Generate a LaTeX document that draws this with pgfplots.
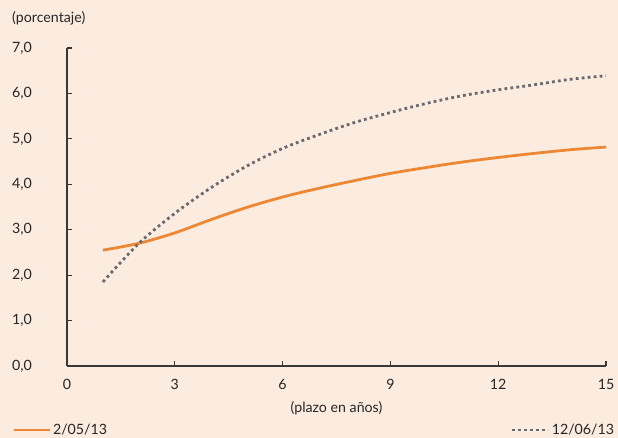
\documentclass[border=0pt]{standalone}
\usepackage{fontspec}
\setmainfont{Lato}
\usepackage{pgfplots}
\pgfplotsset{compat=1.18}
\definecolor{bgc}{RGB}{252,236,224}
\definecolor{orc}{RGB}{237,135,51}
\definecolor{grc}{RGB}{105,106,110}
\definecolor{axc}{RGB}{55,55,55}
\begin{document}
\begin{tikzpicture}
\fill[bgc] (-67pt,-72pt) rectangle (551pt,366pt);
\begin{axis}[
  at={(0,0)}, anchor=south west,
  width=539pt, height=318pt, scale only axis,
  xmin=0, xmax=15, ymin=0, ymax=7,
  axis lines=left,
  axis line style={-, axc, line width=1.1pt},
  tick style={axc, line width=1.1pt},
  tick align=inside,
  major tick length=5pt,
  xtick={0,3,6,9,12,15},
  ytick={0,1,2,3,4,5,6,7},
  font=\fontsize{14.2}{16}\selectfont,
  /pgf/number format/assume math mode=true,
  yticklabel style={/pgf/number format/.cd, fixed, fixed zerofill, precision=1, use comma, /tikz/.cd, anchor=west, inner sep=0pt, xshift=-55pt, text=black!85},
  xticklabel style={anchor=north, inner sep=0pt, yshift=-13pt, text=black!85},
  xlabel={(plazo en años)},
  every axis x label/.style={at={(axis description cs:0.5,-0.132)}, anchor=center, inner sep=0pt, text=black!85},
  ylabel={(porcentaje)},
  every axis y label/.style={at={(axis description cs:-0.102,1.094)}, anchor=west, inner sep=0pt, text=black!85},
  clip=false,
  legend columns=2,
  legend style={at={(axis description cs:-0.102,-0.201)}, anchor=west, draw=none, fill=none, inner sep=0pt, font=\fontsize{14.2}{16}\selectfont, text=black!85,
    /tikz/every even column/.append style={column sep=402pt}},
  legend image code/.code={\draw[#1] (0pt,0pt) -- (36pt,0pt);},
]
\addplot[orc, line width=2.8pt, smooth] coordinates {
(1,2.55) (2,2.70) (3,2.93) (4,3.22) (5,3.49) (6,3.72) (7,3.91) (8,4.08) (9,4.24) (10,4.37) (11,4.49) (12,4.59) (13,4.68) (14,4.76) (15,4.82)};
\addlegendentry{2/05/13}
\addplot[grc, line width=2.8pt, dash pattern=on 2.8pt off 3.2pt, smooth] coordinates {
(1,1.85) (2,2.70) (3,3.36) (4,3.92) (5,4.40) (6,4.79) (7,5.09) (8,5.36) (9,5.58) (10,5.78) (11,5.95) (12,6.08) (13,6.19) (14,6.31) (15,6.39)};
\addlegendentry{12/06/13}
\end{axis}
\pgfresetboundingbox
\path[use as bounding box] (-67pt,-72pt) rectangle (551pt,366pt);
\end{tikzpicture}
\end{document}
